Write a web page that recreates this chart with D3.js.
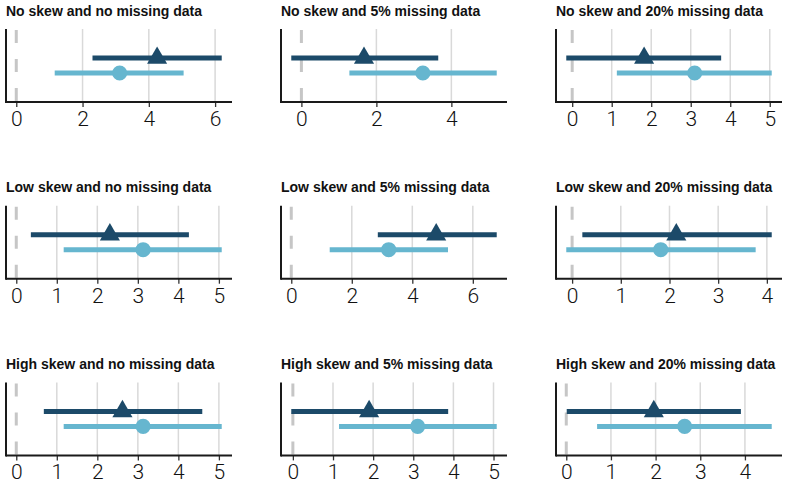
<!DOCTYPE html>
<html>
<head>
<meta charset="utf-8">
<script src="https://cdnjs.cloudflare.com/ajax/libs/d3/7.8.5/d3.min.js"></script>
<style>
  body { margin: 0; background: #fff; }
  .title { font-family: "Liberation Sans", Arial, sans-serif; font-weight: bold; font-size: 14px; fill: #111; }
  .tick text { font-family: Roboto, "Liberation Sans", sans-serif; font-weight: 300; font-size: 21px; fill: #111; }
</style>
</head>
<body>
<svg width="786" height="489"></svg>
<script>
// one entry per panel, row by row
var titles = [
  "No skew and no missing data", "No skew and 5% missing data", "No skew and 20% missing data",
  "Low skew and no missing data", "Low skew and 5% missing data", "Low skew and 20% missing data",
  "High skew and no missing data", "High skew and 5% missing data", "High skew and 20% missing data"
];

// dark series (triangle)
var darkLow  = [2.30, -0.27, -0.15, 0.36, 2.86, 0.21, 0.68, -0.04, 0.01];
var darkEst  = [4.25,  1.67,  1.82, 2.31, 4.79, 2.14, 2.62,  1.90, 1.96];
var darkHigh = [6.20,  3.65,  3.77, 4.26, 6.79, 4.10, 4.59,  3.87, 3.91];

// light series (circle)
var lightLow  = [1.16, 1.28, 1.13, 1.17, 1.27, -0.12, 1.17, 1.15, 0.69];
var lightEst  = [3.12, 3.24, 3.10, 3.13, 3.22,  1.82, 3.13, 3.11, 2.65];
var lightHigh = [5.05, 5.21, 5.05, 5.07, 5.18,  3.77, 5.07, 5.08, 4.60];

var tickVals = [
  [0, 2, 4, 6], [0, 2, 4], [0, 1, 2, 3, 4, 5],
  [0, 1, 2, 3, 4, 5], [0, 2, 4, 6], [0, 1, 2, 3, 4],
  [0, 1, 2, 3, 4, 5], [0, 1, 2, 3, 4, 5], [0, 1, 2, 3, 4]
];

var darkColor = "#1c4a69",
    lightColor = "#66b6cf";

var svg = d3.select("svg"),
    colX = [6, 281, 556],
    rowY = [29, 205.7, 382.4],
    width = 226,
    height = 73;

var y = d3.scalePoint().domain(["light", "dark"]).range([44, 29]);

titles.forEach(function(title, i) {
  var g = svg.append("g")
      .attr("transform", "translate(" + colX[i % 3] + "," + rowY[Math.floor(i / 3)] + ")");

  // free x scale per panel, data extent (incl. zero line) padded 5%
  var lo = d3.min([0, darkLow[i], lightLow[i]]),
      hi = d3.max([0, darkHigh[i], lightHigh[i]]),
      pad = (hi - lo) * 0.05;
  var x = d3.scaleLinear().domain([lo - pad, hi + pad]).range([0, width]);

  g.append("text")
      .attr("class", "title")
      .attr("x", 0)
      .attr("y", -13.5)
      .text(title);

  // grid
  g.selectAll(".grid")
    .data(tickVals[i].filter(function(d) { return d !== 0; }))
    .enter().append("line")
      .attr("x1", function(d) { return x(d); })
      .attr("x2", function(d) { return x(d); })
      .attr("y1", 0)
      .attr("y2", height)
      .style("stroke", "#d9d9d9")
      .style("stroke-width", 1.5);

  g.append("line")
      .attr("x1", x(0)).attr("x2", x(0))
      .attr("y1", 1).attr("y2", height)
      .style("stroke", "#c6c6c6")
      .style("stroke-width", 3)
      .style("stroke-dasharray", "13,16");

  var xAxis = g.append("g")
      .attr("transform", "translate(0," + height + ")")
      .call(d3.axisBottom(x).tickValues(tickVals[i]).tickSize(5).tickPadding(4).tickFormat(d3.format("d")));
  xAxis.select(".domain").remove();
  xAxis.selectAll(".tick line").style("stroke", "#333").style("stroke-width", 1.3);

  g.append("line")
      .attr("x1", 0).attr("x2", width)
      .attr("y1", height).attr("y2", height)
      .style("stroke", "#1a1a1a").style("stroke-width", 2);
  g.append("line")
      .attr("x1", 0).attr("x2", 0)
      .attr("y1", 0).attr("y2", height + 1)
      .style("stroke", "#1a1a1a").style("stroke-width", 2);

  var rows = [
    {key: "dark", low: darkLow[i], est: darkEst[i], high: darkHigh[i], color: darkColor, shape: d3.symbolTriangle},
    {key: "light", low: lightLow[i], est: lightEst[i], high: lightHigh[i], color: lightColor, shape: d3.symbolCircle}
  ];

  g.selectAll(".ci")
    .data(rows)
    .enter().append("line")
      .attr("x1", function(d) { return x(d.low); })
      .attr("x2", function(d) { return x(d.high); })
      .attr("y1", function(d) { return y(d.key); })
      .attr("y2", function(d) { return y(d.key); })
      .style("stroke", function(d) { return d.color; })
      .style("stroke-width", 5);

  g.selectAll(".pt")
    .data(rows)
    .enter().append("path")
      .attr("transform", function(d) { return "translate(" + x(d.est) + "," + y(d.key) + ")"; })
      .attr("d", function(d) { return d3.symbol().type(d.shape).size(d.key == "dark" ? 175 : 180)(); })
      .style("fill", function(d) { return d.color; });
});
</script>
</body>
</html>
